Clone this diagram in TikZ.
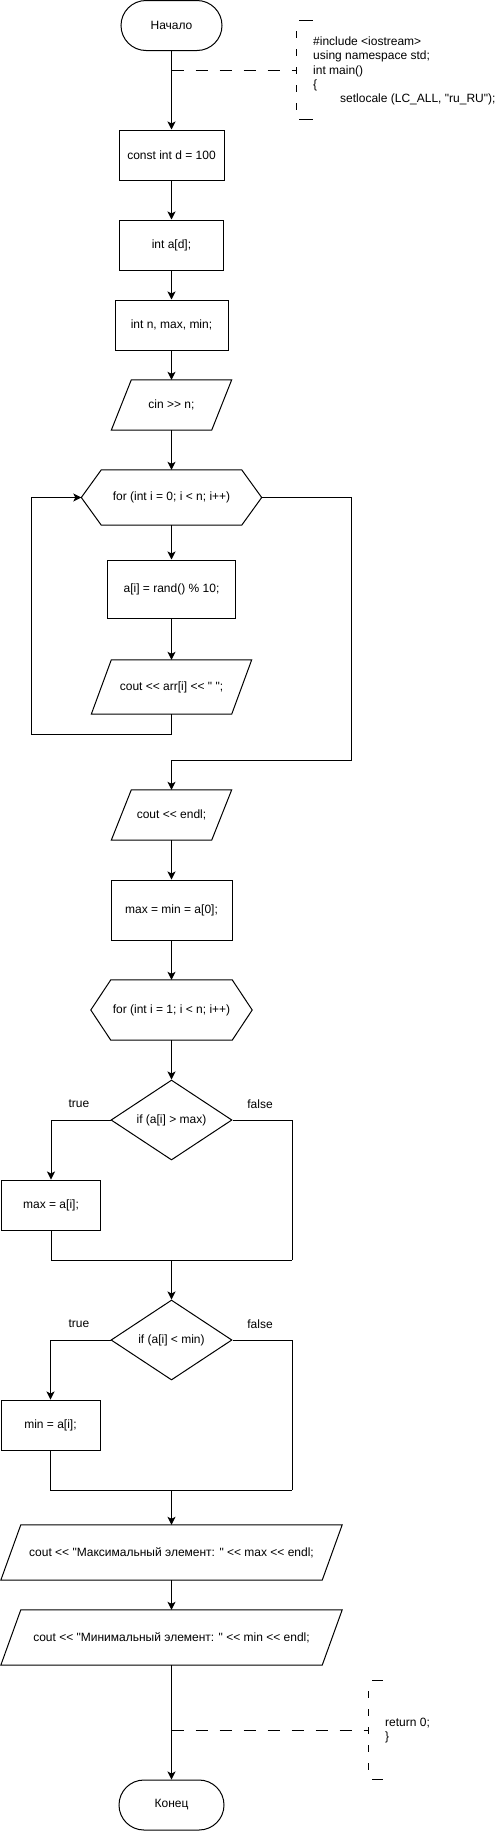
\documentclass[tikz,border=0pt]{standalone}
\usepackage{fontspec}
\newfontfamily\drawfont{Liberation Sans}
\usetikzlibrary{positioning,shapes.geometric,arrows.meta}

\tikzset{
  lbl/.style={font=\drawfont\fontsize{12}{14.4}\selectfont,inner sep=0pt},
  proc/.style={lbl,draw,line width=1pt,minimum height=50pt},
  term/.style={proc,rounded corners=25pt},
  iobox/.style={lbl,minimum height=50pt},
  hexbox/.style={lbl,minimum height=55pt},
  cond/.style={lbl,draw,diamond,aspect=1.5,line width=1pt,
               minimum width=121pt,minimum height=80pt},
  flow/.style={line width=1pt,-{Stealth[length=8pt,width=8pt,inset=2pt]}},
  wire/.style={line width=1pt},
  notelink/.style={line width=1pt,dash pattern=on 12pt off 12pt},
}

\begin{document}
\begin{tikzpicture}[x=1pt,y=-1pt]
  \useasboundingbox (0,0) rectangle (496,1831);

  % main column
  \node[term,minimum width=101pt] (start) at (171.5,25.5) {Начало};
  \node[proc,minimum width=105pt] (constd) at (171.5,155) {const int d = 100};
  \node[proc,minimum width=104pt] (arrd) at (171.5,245) {int a[d];};
  \node[proc,minimum width=113pt] (vars) at (171.5,325) {int n, max, min;};
  \node[iobox,minimum width=100pt] (cin) at (171.5,405) {cin >> n;};
  \node[hexbox,minimum width=180pt] (for1) at (171.5,497.5) {for (int i = 0; i < n; i++)};
  \node[proc,minimum width=128pt,minimum height=58pt] (rnd) at (171.5,589) {a[i] = rand() \% 10;};
  \node[iobox,minimum width=140pt,minimum height=54pt] (outarr) at (171.5,687) {cout << arr[i] << " ";};
  \node[iobox,minimum width=100pt] (endl) at (171.5,815) {cout << endl;};
  \node[proc,minimum width=121pt,minimum height=60pt] (init) at (171.5,910) {max = min = a[0];};
  \node[hexbox,minimum width=161pt,minimum height=60pt] (for2) at (171.5,1010) {for (int i = 1; i < n; i++)};
  \node[cond] (if1) at (171.5,1120) {if (a[i] > max)};
  \node[proc,minimum width=99pt] (setmax) at (51,1205) {max = a[i];};
  \node[cond] (if2) at (171.5,1340) {if (a[i] < min)};
  \node[proc,minimum width=99pt] (setmin) at (50.5,1425) {min = a[i];};
  \node[iobox,minimum width=321pt,minimum height=55pt] (outmax) at (171.5,1552.5)
       {cout << "Максимальный элемент: " << max << endl;};
  \node[iobox,minimum width=321pt,minimum height=55pt] (outmin) at (171.5,1637.5)
       {cout << "Минимальный элемент: " << min << endl;};
  \node[term,minimum width=105pt] (end) at (171.5,1805) {Конец};

  % outlines of the io and loop blocks
  \foreach \n in {cin,outarr,endl,outmax,outmin}
    \draw[wire] ([xshift=10pt]\n.north west) -- ([xshift=10pt]\n.north east)
      -- ([xshift=-10pt]\n.south east) -- ([xshift=-10pt]\n.south west) -- cycle;
  \foreach \n in {for1,for2}
    \draw[wire] (\n.west) -- ([xshift=20pt]\n.north west) -- ([xshift=-20pt]\n.north east)
      -- (\n.east) -- ([xshift=-20pt]\n.south east) -- ([xshift=20pt]\n.south west) -- cycle;

  % branch labels
  \node[lbl] (t1) at (79,1104) {true};
  \node[lbl] (f1) at (260,1104) {false};
  \node[lbl] (t2) at (79,1324) {true};
  \node[lbl] (f2) at (260,1324) {false};

  % comments
  \node[lbl,anchor=west,align=left] (note1) at (313,71)
       {\#include <iostream>\\using namespace std;\\int main()\\\{\\
        \hspace*{27pt}setlocale (LC\_ALL, "ru\_RU");};
  \node[lbl,anchor=west,align=left] (note2) at (385,1730.5) {return 0;\\\}};
  \coordinate (brk1) at (296.5,70);
  \coordinate (brk2) at (368,1730);
  \draw[wire] (299,20) -- (313,20) (299,119) -- (313,119);
  \draw[wire,dash pattern=on 7pt off 11pt,dash phase=7pt] (296.5,20) -- (296.5,119);
  \draw[wire] (372,1680) -- (383,1680) (372,1779) -- (383,1779);
  \draw[wire,dash pattern=on 7pt off 11pt,dash phase=7pt] (368,1680) -- (368,1779);
  \draw[notelink] (start.south |- brk1) -- (brk1);
  \draw[notelink] (end.north |- brk2) -- (brk2);

  % connectors
  \coordinate (back1) at (31,734);
  \coordinate (exit1) at (351,760);
  \coordinate (join1) at (292,1260);
  \coordinate (join2) at (292,1490);
  \draw[flow] (start) -- (constd);
  \draw[flow] (constd) -- (arrd);
  \draw[flow] (arrd) -- (vars);
  \draw[flow] (vars) -- (cin);
  \draw[flow] (cin) -- (for1);
  \draw[flow] (for1) -- (rnd);
  \draw[flow] (rnd) -- (outarr);
  \draw[flow] (outarr.south) |- (back1) |- (for1.west);
  \draw[flow] (for1.east) -| (exit1) -| (endl.north);
  \draw[flow] (endl) -- (init);
  \draw[flow] (init) -- (for2);
  \draw[flow] (for2) -- (if1);
  \draw[flow] (if1.west) -| (setmax.north);
  \draw[wire] (if1.east) -| (join1);
  \draw[wire] (setmax.south) |- (join1);
  \draw[flow] (if1.south |- join1) -- (if2);
  \draw[flow] (if2.west) -| (setmin.north);
  \draw[wire] (if2.east) -| (join2);
  \draw[wire] (setmin.south) |- (join2);
  \draw[flow] (if2.south |- join2) -- (outmax);
  \draw[flow] (outmax) -- (outmin);
  \draw[flow] (outmin) -- (end);
\end{tikzpicture}
\end{document}
